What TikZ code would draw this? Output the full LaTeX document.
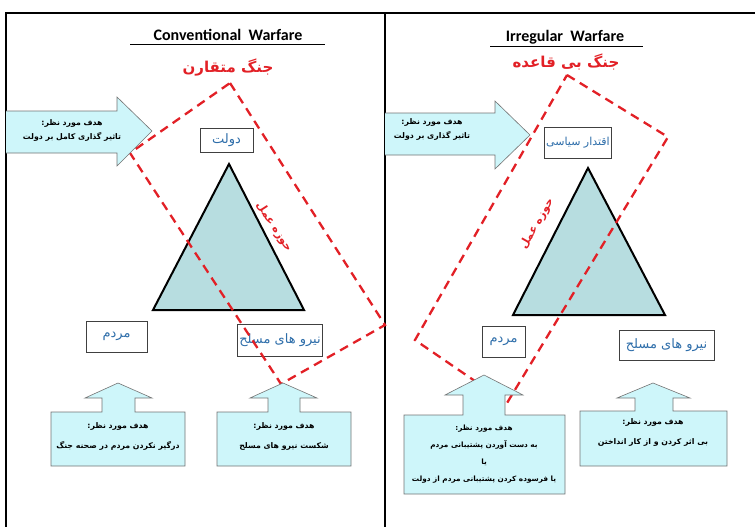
\documentclass[tikz,border=0pt]{standalone}
\usepackage{fontspec}
\setmainfont{DejaVu Sans}
\newfontfamily\farsi[Script=Arabic]{DejaVu Sans}
\newfontfamily\latinsans{Carlito}
\TeXXeTstate=1
\usetikzlibrary{positioning}
\definecolor{calloutcyan}{RGB}{206,246,250}
\definecolor{pyramidteal}{RGB}{183,221,224}
\definecolor{actorblue}{RGB}{46,110,170}
\definecolor{zonered}{RGB}{226,32,38}
\newcommand{\fa}[1]{\beginR #1\endR}

\begin{document}
\begin{tikzpicture}[x=1pt,y=-1pt,
         frameline/.style = {line width=2.6pt,black},
         callout/.style = {draw=black!55,fill=calloutcyan,line width=0.6pt},
         goal/.style = {font=\farsi\bfseries\fontsize{7.8}{14}\selectfont,
         align=center,inner sep=0pt},
         actor/.style = {draw=black!75,fill=white,line width=0.6pt,
         font=\farsi\fontsize{13}{15}\selectfont,text=actorblue,inner sep=2pt},
         pyramid/.style = {draw=black,line width=2pt,fill=pyramidteal},
         zone/.style = {draw=zonered,line width=2.3pt,dash pattern=on 9pt off 6pt},
         headline/.style = {font=\latinsans\bfseries\fontsize{16}{18}\selectfont},
         redline/.style = {font=\farsi\bfseries\fontsize{15}{17}\selectfont,text=zonered},
         zonelabel/.style = {font=\farsi\bfseries\fontsize{11}{13}\selectfont,text=zonered}
]
         \useasboundingbox (0,0) rectangle (755,527);

         % frame
         \draw[frameline] (6,527) -- (6,13) -- (755,13);
         \draw[frameline] (385,13) -- (385,527);

         %%%% conventional warfare %%%%
         \node[headline] (tL) at (228,35) {Conventional\ \ Warfare};
         \draw[line width=1pt] (130,45) -- (325,45);
         \node[redline] (rL) at (228,68) {\fa{جنگ متقارن}};

         % triangle
         \draw[pyramid] (229,164) -- (304,310) -- (153,310) -- cycle;

         % actors
         \node[actor,minimum width=53pt,minimum height=24pt] (dL) at (226.5,140) {\fa{دولت}};
         \node[actor,minimum width=61pt,minimum height=31pt] (mL) at (116.5,336.5) {\fa{مردم}};
         \node[actor,minimum width=77pt,minimum height=32pt] (fL) at (280,340) {\fa{نیرو های مسلح}};

         % zone of action
         \draw[zone] (230,83) -- (385,325) -- (281,384) -- (130,153) -- cycle;
         \node[zonelabel,rotate=-57] (zL) at (274,227) {\fa{حوزه عمل}};

         % goal, government
         \draw[callout] (6,111) -- (117,111) -- (117,97) -- (152,131) -- (117,166)
         -- (117,153) -- (6,153);
         \node[goal] (gL0) at (72,130) {\fa{هدف مورد نظر:}\\\fa{تاثیر گذاری کامل بر دولت}};

         % goal, people
         \draw[callout] (51,412) -- (102,412) -- (102,398) -- (85,398) -- (118,383)
         -- (152,398) -- (135,398) -- (135,412) -- (185,412) -- (185,466) -- (51,466) -- cycle;
         \node[goal,font=\farsi\bfseries\fontsize{7.8}{20}\selectfont] (gL1) at (118,436)
         {\fa{هدف مورد نظر:}\\\fa{درگیر نکردن مردم در صحنه جنگ}};

         % goal, armed forces
         \draw[callout] (217,412) -- (268,412) -- (268,398) -- (250,398) -- (283,383)
         -- (317,398) -- (300,398) -- (300,412) -- (351,412) -- (351,466) -- (217,466) -- cycle;
         \node[goal,font=\farsi\bfseries\fontsize{7.8}{20}\selectfont] (gL2) at (284,436)
         {\fa{هدف مورد نظر:}\\\fa{شکست نیرو های مسلح}};

         %%%% irregular warfare %%%%
         \node[headline] (tR) at (565,37) {Irregular\ \ Warfare};
         \draw[line width=1pt] (490,47) -- (643,47);
         \node[redline] (rR) at (566,62) {\fa{جنگ بی قاعده}};

         % triangle
         \draw[pyramid] (588,168) -- (665,315) -- (513,315) -- cycle;

         % actors
         \node[actor,minimum width=64pt,minimum height=31pt,
         font=\farsi\fontsize{11}{13}\selectfont] (dR) at (578,142.5) {\fa{اقتدار سیاسی}};
         \node[actor,minimum width=43pt,minimum height=31pt] (mR) at (503.5,341.5) {\fa{مردم}};
         \node[actor,minimum width=95pt,minimum height=30pt] (fR) at (666.5,345) {\fa{نیرو های مسلح}};

         % zone of action
         \draw[zone] (567,75) -- (668,137) -- (507,403) -- (415,340) -- cycle;
         \node[zonelabel,rotate=60] (zR) at (537,224) {\fa{حوزه عمل}};

         % goal, government
         \draw[callout] (385,113) -- (495,113) -- (495,101) -- (530,135) -- (495,169)
         -- (495,155) -- (385,155);
         \node[goal] (gR0) at (432,129) {\fa{هدف مورد نظر:}\\\fa{تاثیر گذاری بر دولت}};

         % goal, people
         \draw[callout] (404,415) -- (463,415) -- (463,395) -- (445,395) -- (484,375)
         -- (523,395) -- (505,395) -- (505,415) -- (565,415) -- (565,494) -- (404,494) -- cycle;
         \node[goal,font=\farsi\bfseries\fontsize{7.3}{17}\selectfont] (gR1) at (484,454)
         {\fa{هدف مورد نظر:}\\\fa{به دست آوردن پشتیبانی مردم}\\\fa{یا}\\
         \fa{یا فرسوده کردن پشتیبانی مردم از دولت}};

         % goal, armed forces
         \draw[callout] (580,411) -- (635,411) -- (635,398) -- (617,398) -- (653,383)
         -- (690,398) -- (673,398) -- (673,411) -- (727,411) -- (727,466) -- (580,466) -- cycle;
         \node[goal,font=\farsi\bfseries\fontsize{7.8}{20}\selectfont] (gR2) at (653,432)
         {\fa{هدف مورد نظر:}\\\fa{بی اثر کردن و از کار انداختن}};
\end{tikzpicture}
\end{document}
